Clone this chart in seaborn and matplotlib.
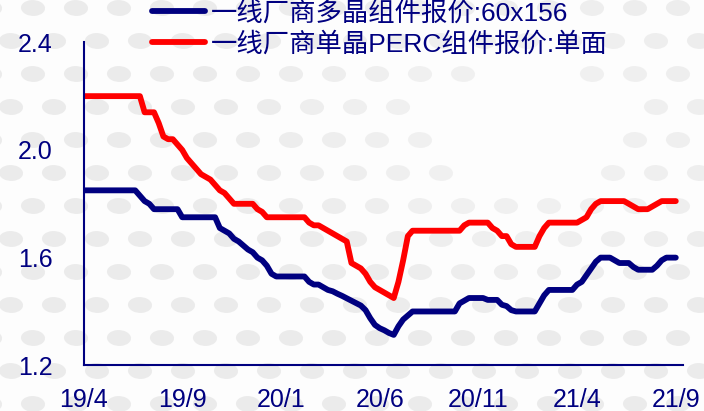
import numpy as np
import pandas as pd
import matplotlib
matplotlib.use('Agg')
import matplotlib.pyplot as plt
from matplotlib.patches import Ellipse
import seaborn as sns

# weekly module quotes, 2019/4 - 2021/9 (yuan/W)
tick_labels = ['19/4', '19/9', '20/1', '20/6', '20/11', '21/4', '21/9']

poly_name = '一线厂商多晶组件报价:60x156'
mono_name = '一线厂商单晶PERC组件报价:单面'

poly_price = [
    1.85, 1.85, 1.85, 1.85, 1.85, 1.85, 1.85, 1.85, 1.85, 1.85, 1.85, 1.85,
    1.83, 1.81, 1.80, 1.78, 1.78, 1.78, 1.78, 1.78, 1.78,
    1.75, 1.75, 1.75, 1.75, 1.75, 1.75, 1.75, 1.75,
    1.71, 1.70, 1.69, 1.67, 1.66, 1.645, 1.63, 1.62, 1.60, 1.59, 1.57, 1.54,
    1.53, 1.53, 1.53, 1.53, 1.53, 1.53, 1.53,
    1.51, 1.50, 1.50, 1.49, 1.48, 1.475, 1.466, 1.458, 1.449, 1.44, 1.431,
    1.422, 1.405, 1.375, 1.35, 1.338, 1.33, 1.32, 1.313, 1.345, 1.37, 1.385,
    1.40, 1.40, 1.40, 1.40, 1.40, 1.40, 1.40, 1.40, 1.40, 1.40,
    1.43, 1.44, 1.45, 1.45, 1.45, 1.45, 1.443, 1.443, 1.443,
    1.425, 1.42, 1.405, 1.40, 1.40, 1.40, 1.40, 1.40,
    1.43, 1.46, 1.48, 1.48, 1.48, 1.48, 1.48, 1.48,
    1.50, 1.51, 1.535, 1.56, 1.585, 1.60, 1.60, 1.60,
    1.59, 1.58, 1.58, 1.58, 1.565, 1.555, 1.555, 1.555, 1.555,
    1.57, 1.59, 1.60, 1.60, 1.60,
]

mono_price = [
    2.20, 2.20, 2.20, 2.20, 2.20, 2.20, 2.20, 2.20, 2.20, 2.20, 2.20, 2.20, 2.20,
    2.14, 2.14, 2.14, 2.10, 2.05, 2.04, 2.04, 2.02, 2.00, 1.97, 1.95, 1.93,
    1.91, 1.90, 1.89, 1.87, 1.85, 1.84, 1.82,
    1.80, 1.80, 1.80, 1.80, 1.80, 1.78, 1.77, 1.75,
    1.75, 1.75, 1.75, 1.75, 1.75, 1.75, 1.75, 1.75,
    1.73, 1.72, 1.72, 1.71, 1.70, 1.69, 1.68, 1.67, 1.66,
    1.58, 1.57, 1.56, 1.54, 1.51, 1.49, 1.48, 1.47, 1.46, 1.45, 1.51, 1.59, 1.68,
    1.70, 1.70, 1.70, 1.70, 1.70, 1.70, 1.70, 1.70, 1.70, 1.70, 1.70,
    1.72, 1.73, 1.73, 1.73, 1.73, 1.73,
    1.71, 1.70, 1.68, 1.68, 1.65, 1.64, 1.64, 1.64, 1.64, 1.64,
    1.68, 1.71, 1.73, 1.73, 1.73, 1.73, 1.73, 1.73, 1.73,
    1.74, 1.75, 1.78, 1.80, 1.81, 1.81, 1.81, 1.81, 1.81, 1.81,
    1.80, 1.79, 1.78, 1.78, 1.78, 1.79, 1.80, 1.81, 1.81, 1.81, 1.81,
]

navy = '#000080'
red = '#ff0000'

df = pd.DataFrame({'week': np.arange(len(poly_price)),
                   poly_name: poly_price,
                   mono_name: mono_price})
long_df = df.melt(id_vars='week', var_name='series', value_name='price')

sns.set_style('white')
plt.rcParams['font.family'] = ['Liberation Sans', 'Noto Sans CJK SC', 'DejaVu Sans']

fig = plt.figure(figsize=(7.04, 4.11), dpi=100)
fig.patch.set_facecolor('#fdfdfd')

# decorative dotted backdrop: light grey ovals, fading towards upper middle
W, H = 704, 411
for r, yc in enumerate(np.arange(8, H + 20, 33)):
    shift = 21 if r % 2 else 0
    for xc in np.arange(-10 + shift, W + 30, 43):
        d = np.hypot((xc - 520) / 300, (yc - 130) / 200)
        shade = 0.55 + 0.45 * min(d, 1.0)
        if shade < 0.7:
            continue
        fig.add_artist(Ellipse((xc / W, 1 - yc / H), 24 / W, 16 / H, angle=8,
                               transform=fig.transFigure, facecolor='#e6e6e6',
                               alpha=shade * 0.75, edgecolor='none', zorder=-5))

ax = fig.add_axes([83.5 / 704, 1 - 365.3 / 411, 599.8 / 704, 323.0 / 411])

lw = 4.2
sns.lineplot(data=long_df, x='week', y='price', hue='series',
             hue_order=[poly_name, mono_name], palette=[navy, red],
             linewidth=lw, ax=ax, legend=False,
             solid_capstyle='round', solid_joinstyle='round')

n = len(poly_price)
ax.set_xlim(0, 127.6)
ax.set_ylim(1.2, 2.4)
ax.set_xticks(np.linspace(0, n - 1, len(tick_labels)))
ax.set_xticklabels(tick_labels)
ax.set_yticks([1.2, 1.6, 2.0, 2.4])
ax.set_yticklabels(['1.2', '1.6', '2.0', '2.4'])
ax.set_xlabel('')
ax.set_ylabel('')

for side in ['top', 'right']:
    ax.spines[side].set_visible(False)
for side in ['left', 'bottom']:
    ax.spines[side].set_color(navy)
    ax.spines[side].set_linewidth(1.5)
ax.tick_params(axis='both', direction='in', length=5, width=1.5, color=navy,
               labelcolor=navy, labelsize=18)
ax.tick_params(axis='y', pad=22)
ax.tick_params(axis='x', pad=16)
ax.patch.set_alpha(0)

handles = [plt.Line2D([], [], color=navy, linewidth=lw, solid_capstyle='round'),
           plt.Line2D([], [], color=red, linewidth=lw, solid_capstyle='round')]
fig.legend(handles, [poly_name, mono_name], loc='upper left',
           bbox_to_anchor=(152 / 704, 0.998), frameon=False, fontsize=19,
           handlelength=2.0, handletextpad=0.25, labelspacing=0.25,
           borderpad=0, borderaxespad=0, labelcolor=navy)

fig.savefig('out.png', dpi=100, facecolor=fig.get_facecolor())
